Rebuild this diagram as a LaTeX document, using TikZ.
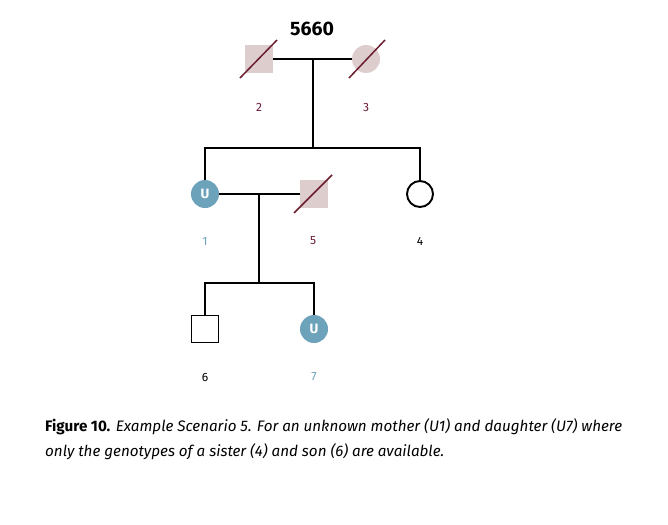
\documentclass[tikz,border=0pt]{standalone}
\usepackage{fontspec}
\setmainfont{Fira Sans}
\usepackage{xcolor}
\usetikzlibrary{positioning,calc}
\definecolor{deadfill}{HTML}{DDCDCD}
\definecolor{deadline}{HTML}{6B1D2D}
\definecolor{deadtext}{HTML}{6A1B3B}
\definecolor{unknown}{HTML}{6CA2BA}

\begin{document}
\begin{tikzpicture}[
    x=1pt, y=-1pt,
    male/.style={draw, line width=1.9pt, fill=white, minimum size=27pt, inner sep=0pt},
    female/.style={circle, draw, line width=1.9pt, fill=white, minimum size=26pt, inner sep=0pt},
    deadmale/.style={fill=deadfill, minimum size=28pt, inner sep=0pt},
    deadfemale/.style={circle, fill=deadfill, minimum size=28pt, inner sep=0pt},
    unk/.style={circle, fill=unknown, minimum size=28pt, inner sep=0pt, text=white, font=\bfseries\fontsize{13.5}{13.5}\selectfont},
    slash/.style={deadline, line width=1.5pt},
    link/.style={line width=1.9pt},
    idlabel/.style={font=\fontsize{12}{14}\selectfont},
]
    \useasboundingbox (0,0) rectangle (668,524);

    % Title
    \node[font=\bfseries\fontsize{19.5}{22}\selectfont] (title) at (312,29) {5660};

    % Generation I
    \node[deadmale] (n2) at (259,59) {};
    \node[deadfemale] (n3) at (366,59) {};
    \draw[slash] ($(n2.center)+(-19,19)$) -- ($(n2.center)+(18,-19)$);
    \draw[slash] ($(n3.center)+(-17,19)$) -- ($(n3.center)+(19,-19)$);
    \node[idlabel, text=deadtext] (l2) at (259,107) {2};
    \node[idlabel, text=deadtext] (l3) at (366,107) {3};

    % Generation II
    \node[unk] (n1) at (205,194) {U};
    \node[deadmale] (n5) at (314,194) {};
    \node[female] (n4) at (420,194) {};
    \draw[slash] ($(n5.center)+(-20,19)$) -- ($(n5.center)+(18,-19)$);
    \node[idlabel, text=unknown] (l1) at (205,241) {1};
    \node[idlabel, text=deadtext] (l5) at (313,241) {5};
    \node[idlabel] (l4) at (420,241) {4};

    % Generation III
    \node[male] (n6) at (205,329) {};
    \node[unk] (n7) at (314,329) {U};
    \node[idlabel] (l6) at (205,377) {6};
    \node[idlabel, text=unknown] (l7) at (314,377) {7};

    % Lines of descent
    \coordinate (m23) at (313,59);
    \coordinate (s1) at (313,148);
    \coordinate (m15) at (259,194);
    \coordinate (s2) at (259,283);
    \draw[link] (n2) -- (n3);
    \draw[link] (m23) -- (s1);
    \draw[link] (n1.north) |- (s1) -| (n4.north);
    \draw[link] (n1) -- (n5);
    \draw[link] (m15) -- (s2);
    \draw[link] (n6.north) |- (s2) -| (n7.north);

    % Caption
    \node[anchor=north west, align=left, inner sep=0pt, font=\fontsize{15.2}{25}\selectfont] (caption) at (45,418)
        {\textbf{Figure 10.} \textit{Example Scenario 5. For an unknown mother (U1) and daughter (U7) where}\\
         \textit{only the genotypes of a sister (4) and son (6) are available.}};
\end{tikzpicture}
\end{document}
